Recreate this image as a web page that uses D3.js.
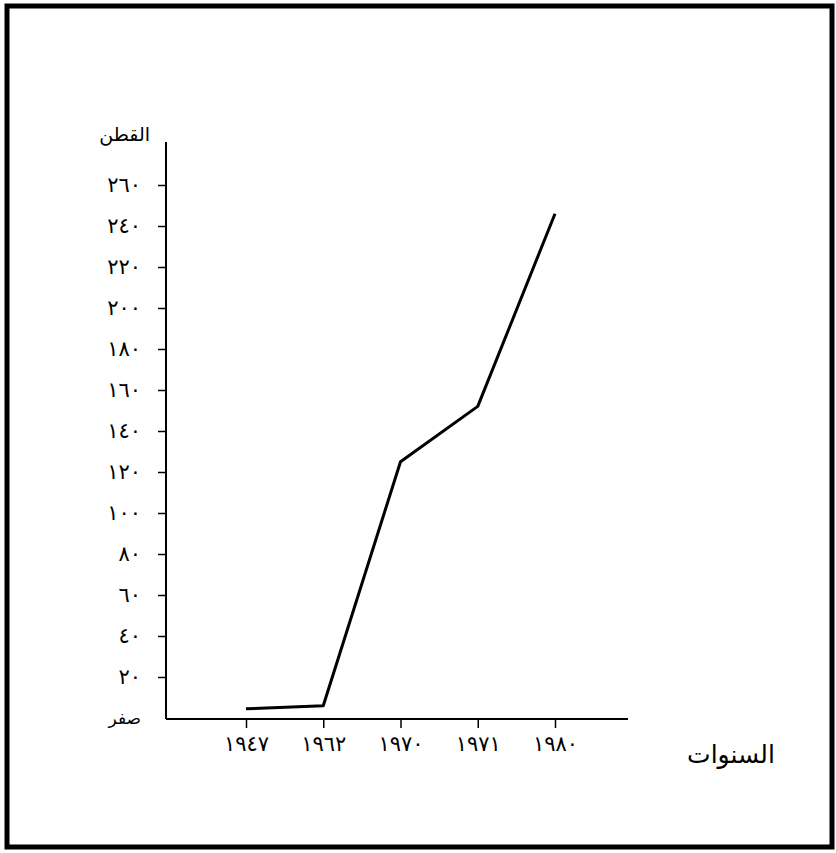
<!DOCTYPE html>
<html>
<head>
<meta charset="utf-8">
<script src="https://cdn.jsdelivr.net/npm/d3@7"></script>
<style>
  body { margin: 0; background: #fff; }
  text { font-family: "DejaVu Sans", sans-serif; fill: #000; }
</style>
</head>
<body>
<div id="chart"></div>
<script>
// data
var years = ["1947", "1962", "1970", "1971", "1980"];
var yearLabels = ["١٩٤٧", "١٩٦٢", "١٩٧٠", "١٩٧١", "١٩٨٠"];
var cotton = [4.5, 6, 125, 152, 246];
var yTicks = [0, 20, 40, 60, 80, 100, 120, 140, 160, 180, 200, 220, 240, 260];
var yTickLabels = ["صفر", "٢٠", "٤٠", "٦٠", "٨٠", "١٠٠", "١٢٠", "١٤٠", "١٦٠", "١٨٠", "٢٠٠", "٢٢٠", "٢٤٠", "٢٦٠"];

var W = 836, H = 853;

var svg = d3.select("#chart")
  .append("svg")
    .attr("width", W)
    .attr("height", H);

// frame round the page
svg.append("rect")
  .attr("x", 7).attr("y", 6)
  .attr("width", 825).attr("height", 841)
  .attr("fill", "none")
  .attr("stroke", "#000")
  .attr("stroke-width", 5);

var x = d3.scalePoint()
  .domain(years)
  .range([246, 555]);

var y = d3.scaleLinear()
  .domain([0, 260])
  .range([718, 185]);

var axisX = 166, axisY = 719;

// Y axis
var gy = svg.append("g")
  .attr("transform", "translate(" + axisX + ",0)")
  .call(d3.axisLeft(y)
    .tickValues(yTicks)
    .tickSize(8)
    .tickSizeOuter(0)
    .tickPadding(17)
    .tickFormat(function(d, i) { return yTickLabels[i]; }));
gy.select(".domain").remove();
gy.selectAll(".tick line").attr("stroke", "#000").attr("stroke-width", 1.5)
  .filter(function(d) { return d === 0; }).remove();
gy.selectAll(".tick text")
  .attr("font-size", function(d) { return d === 0 ? 17 : 21; })
  .attr("font-family", "DejaVu Sans, sans-serif");

svg.append("line")
  .attr("x1", axisX).attr("x2", axisX)
  .attr("y1", 142).attr("y2", axisY)
  .attr("stroke", "#000").attr("stroke-width", 2);

// X axis
var gx = svg.append("g")
  .attr("transform", "translate(0," + axisY + ")")
  .call(d3.axisBottom(x)
    .tickSize(9)
    .tickSizeOuter(0)
    .tickPadding(8)
    .tickFormat(function(d, i) { return yearLabels[i]; }));
gx.select(".domain").remove();
gx.selectAll(".tick line").attr("stroke", "#000").attr("stroke-width", 1.5);
gx.selectAll(".tick text")
  .attr("font-size", 21)
  .attr("font-family", "DejaVu Sans, sans-serif");

svg.append("line")
  .attr("x1", axisX).attr("x2", 628)
  .attr("y1", axisY).attr("y2", axisY)
  .attr("stroke", "#000").attr("stroke-width", 2);

// axis titles
svg.append("text")
  .attr("x", 150)
  .attr("y", 141)
  .attr("text-anchor", "end")
  .attr("font-size", 19)
  .text("القطن");

svg.append("text")
  .attr("x", 731)
  .attr("y", 763)
  .attr("text-anchor", "middle")
  .attr("font-size", 25)
  .text("السنوات");

// the line
var line = d3.line()
  .x(function(d, i) { return x(years[i]); })
  .y(function(d) { return y(d); });

svg.append("path")
  .datum(cotton)
  .attr("d", line)
  .attr("fill", "none")
  .attr("stroke", "#000")
  .attr("stroke-width", 3)
  .attr("stroke-linejoin", "round");
</script>
</body>
</html>
